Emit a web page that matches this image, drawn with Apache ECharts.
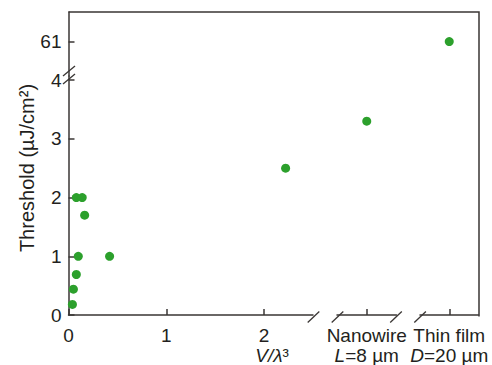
<!DOCTYPE html>
<html>
<head>
<meta charset="utf-8">
<script src="https://cdn.jsdelivr.net/npm/echarts@6/dist/echarts.min.js"></script>
<style>
html,body{margin:0;padding:0;background:#fff;}
#chart{width:492px;height:365px;}
</style>
</head>
<body>
<div id="chart"></div>
<script>
// ---- data ----
const volumes = [0.04, 0.05, 0.08, 0.10, 0.42, 0.08, 0.14, 0.165, 2.22];   // V/λ³
const thresholds = [0.18, 0.44, 0.69, 1.0, 1.0, 2.0, 2.0, 1.7, 2.5];       // µJ/cm²
const nanowireCategory = ['Nanowire'];
const nanowireThreshold = [3.3];
const thinFilmCategory = ['Thin film'];
const thinFilmThreshold = [61];
const xTicks = [0, 1, 2];
const yTicksLow = [0, 1, 2, 3, 4];
const yTicksHigh = [61];

// ---- styling ----
const FONT = "'Liberation Sans', Arial, Helvetica, sans-serif";
const AX = '#3a3634';
const TXT = '#231f20';
const GREEN = '#2ca02c';
const FS = 19;

const chart = echarts.init(document.getElementById('chart'), null, {renderer: 'svg'});

const lowTop = 76, lowH = 240.5, highTop = 12, highH = 64;
const lowMax = 4.07, highMin = 54, highMax = 67;

const axisLine = {show: true, lineStyle: {color: AX, width: 1.5}};
const labelBase = {color: TXT, fontFamily: FONT, fontSize: FS, lineHeight: 20};
const dotStyle = {color: GREEN, opacity: 1};

function valY(min, max, ticks, idx) {
  return {
    type: 'value', gridIndex: idx, min: min, max: max, position: 'left',
    axisLine: axisLine,
    axisTick: {show: true, inside: true, length: 6, lineStyle: {color: AX, width: 1.5}, customValues: ticks},
    axisLabel: Object.assign({margin: 7, customValues: ticks}, labelBase),
    splitLine: {show: false}
  };
}
function hiddenY(min, max, idx) {
  return {type: 'value', gridIndex: idx, min: min, max: max, show: false, splitLine: {show: false}};
}
function catX(cat, idx, formatter) {
  return {
    type: 'category', gridIndex: idx, data: cat, boundaryGap: true, position: 'bottom',
    axisLine: axisLine,
    axisTick: {show: true, inside: true, alignWithLabel: true, length: 6, lineStyle: {color: AX, width: 1.5}},
    axisLabel: Object.assign({margin: 10, interval: 0, formatter: formatter,
      rich: {
        i: {fontStyle: 'italic', fontFamily: FONT, fontSize: FS, color: TXT, lineHeight: 20},
        n: {fontFamily: FONT, fontSize: FS, color: TXT, lineHeight: 20}
      }}, labelBase),
    splitLine: {show: false}
  };
}

const option = {
  backgroundColor: '#ffffff',
  animation: false,
  grid: [
    {left: 68.5, top: lowTop, width: 244.5, height: lowH},
    {left: 68.5, top: highTop, width: 244.5, height: highH},
    {left: 337, top: lowTop, width: 59.5, height: lowH},
    {left: 420, top: lowTop, width: 58.5, height: lowH},
    {left: 420, top: highTop, width: 58.5, height: highH}
  ],
  xAxis: [
    {
      type: 'value', gridIndex: 0, min: 0, max: 2.5, position: 'bottom',
      axisLine: axisLine,
      axisTick: {show: true, inside: true, length: 6, lineStyle: {color: AX, width: 1.5}, customValues: xTicks},
      axisLabel: Object.assign({margin: 10, customValues: xTicks,
        formatter: function (v) { return v === 2 ? '{n|2}\n{v|V/λ}{n|³}' : '{n|' + v + '}'; },
        rich: {
          n: {fontFamily: FONT, fontSize: FS, color: TXT, lineHeight: 20},
          v: {fontStyle: 'italic', fontFamily: FONT, fontSize: FS, color: TXT, lineHeight: 20, padding: [0, 0, 0, 16]}
        }}, labelBase),
      splitLine: {show: false}
    },
    {type: 'value', gridIndex: 1, min: 0, max: 2.5, show: false, splitLine: {show: false}},
    catX(nanowireCategory, 2, function () { return '{n|Nanowire}\n{i|L}{n|=8 µm}'; }),
    catX(thinFilmCategory, 3, function () { return '{n|Thin film}\n{i|D}{n|=20 µm}'; }),
    {type: 'category', gridIndex: 4, data: thinFilmCategory, boundaryGap: true, show: false}
  ],
  yAxis: [
    valY(0, lowMax, yTicksLow, 0),
    valY(highMin, highMax, yTicksHigh, 1),
    hiddenY(0, lowMax, 2),
    hiddenY(0, lowMax, 3),
    hiddenY(highMin, highMax, 4)
  ],
  series: [
    {
      type: 'scatter', xAxisIndex: 0, yAxisIndex: 0, symbolSize: 9,
      itemStyle: dotStyle,
      data: volumes.map(function (v, i) { return [v, thresholds[i]]; })
    },
    {
      type: 'scatter', xAxisIndex: 2, yAxisIndex: 2, symbolSize: 9,
      itemStyle: dotStyle,
      data: nanowireCategory.map(function (c, i) { return [c, nanowireThreshold[i]]; })
    },
    {
      type: 'scatter', xAxisIndex: 4, yAxisIndex: 4, symbolSize: 9,
      itemStyle: dotStyle,
      data: thinFilmCategory.map(function (c, i) { return [c, thinFilmThreshold[i]]; })
    }
  ],
  graphic: [
    // frame (top and right)
    {type: 'polyline', silent: true, shape: {points: [[68.5, 12], [479, 12], [479, 316.5]]},
     style: {stroke: AX, lineWidth: 1.5, fill: null}},
    // break marks on x axis
    {type: 'line', silent: true, shape: {x1: 307.7, y1: 322.5, x2: 319.3, y2: 311.5}, style: {stroke: AX, lineWidth: 1.3}},
    {type: 'line', silent: true, shape: {x1: 331.7, y1: 322.5, x2: 343.3, y2: 311.5}, style: {stroke: AX, lineWidth: 1.3}},
    {type: 'line', silent: true, shape: {x1: 390.2, y1: 322.5, x2: 401.8, y2: 311.5}, style: {stroke: AX, lineWidth: 1.3}},
    {type: 'line', silent: true, shape: {x1: 414.3, y1: 322.5, x2: 425.9, y2: 311.5}, style: {stroke: AX, lineWidth: 1.3}},
    // break marks on y axis
    {type: 'line', silent: true, shape: {x1: 63, y1: 76, x2: 75, y2: 66}, style: {stroke: AX, lineWidth: 1.3}},
    {type: 'line', silent: true, shape: {x1: 63, y1: 84, x2: 75, y2: 74}, style: {stroke: AX, lineWidth: 1.3}},
    // y axis title
    {type: 'text', silent: true, x: 27, y: 168, rotation: Math.PI / 2,
     style: {text: 'Threshold (µJ/cm²)', fill: TXT, font: '20px ' + FONT, align: 'center', verticalAlign: 'middle'}}
  ]
};
chart.setOption(option);
</script>
</body>
</html>
